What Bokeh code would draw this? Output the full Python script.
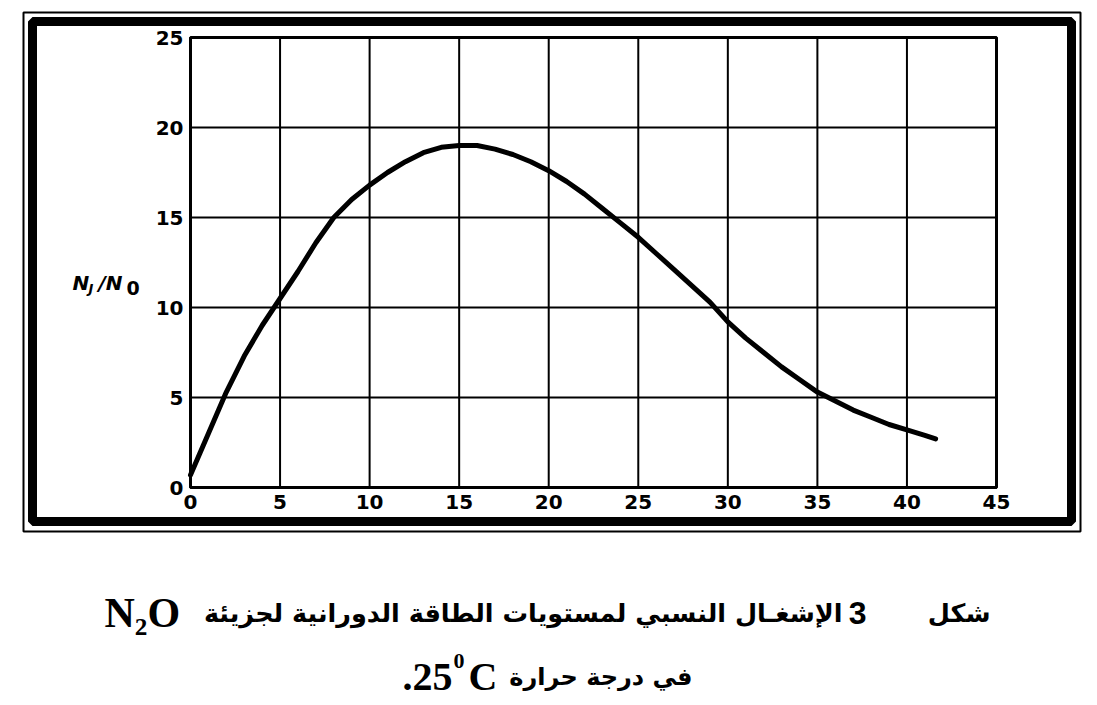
from bokeh.plotting import figure
from bokeh.models import FixedTicker, LinearAxis, Range1d
from bokeh.core.properties import value
from bokeh.embed import file_html
from bokeh.resources import INLINE

# ---- data ----
J = [0, 1, 2, 3, 4, 5, 6, 7, 8, 9, 10, 11, 12, 13, 14, 15, 16, 17, 18, 19, 20,
     21, 22, 23, 24, 25, 26, 27, 28, 29, 30, 31, 32, 33, 34, 35, 36, 37, 38,
     39, 40, 41, 41.6]
ratio = [0.7, 3.0, 5.3, 7.3, 9.0, 10.5, 12.0, 13.6, 15.0, 16.0, 16.8, 17.5,
         18.1, 18.6, 18.9, 19.0, 19.0, 18.8, 18.5, 18.1, 17.6, 17.0, 16.3,
         15.5, 14.7, 13.9, 13.0, 12.1, 11.2, 10.3, 9.2, 8.3, 7.5, 6.7, 6.0,
         5.3, 4.8, 4.3, 3.9, 3.5, 3.2, 2.9, 2.7]
x_ticks = [0, 5, 10, 15, 20, 25, 30, 35, 40, 45]
y_ticks = [0, 5, 10, 15, 20, 25]
X_MAX, Y_MAX = 45, 25

caption_word = "شكل"
caption_num = "3"
caption_line1 = "الإشغـال النسبي لمستويات الطاقة الدورانية لجزيئة"
caption_mol = "N₂O"
caption_line2 = "في درجة حرارة"
caption_temp = ".25"
caption_deg = "0"
caption_unit = "C"

# ---- layout (canvas pixels) ----
W, H = 1085, 700
PX0, PX1 = 190, 996      # canvas x of data 0 and X_MAX
PY0, PY1 = 487, 37       # canvas y of data 0 and Y_MAX
kx = (PX1 - PX0) / X_MAX
ky = (PY0 - PY1) / Y_MAX


def dx(cx):
    return (cx - PX0) / kx


def dy(cy):
    return (PY0 - cy) / ky


p = figure(width=W, height=H,
           x_range=Range1d(dx(0), dx(W)), y_range=Range1d(dy(H), dy(0)),
           x_axis_type=None, y_axis_type=None,
           output_backend="svg", toolbar_location=None,
           min_border_left=0, min_border_right=0,
           min_border_top=0, min_border_bottom=0)
p.background_fill_color = "white"
p.border_fill_color = "white"
p.outline_line_color = None
p.xgrid.visible = False
p.ygrid.visible = False

# grid lines at the tick positions
p.segment(x0=x_ticks, y0=[0] * len(x_ticks), x1=x_ticks, y1=[Y_MAX] * len(x_ticks),
          line_color="black", line_width=2)
p.segment(x0=[0] * len(y_ticks), y0=y_ticks, x1=[X_MAX] * len(y_ticks), y1=y_ticks,
          line_color="black", line_width=2)
# plot box
p.quad(left=[0], right=[X_MAX], bottom=[0], top=[Y_MAX], fill_color=None,
       line_color="black", line_width=3)

# data curve
p.line(J, ratio, line_width=5, line_color="black", line_cap="round")

# axes
xaxis = LinearAxis(fixed_location=0, bounds=(0, X_MAX), ticker=FixedTicker(ticks=x_ticks))
yaxis = LinearAxis(fixed_location=0, bounds=(0, Y_MAX), ticker=FixedTicker(ticks=y_ticks))
for ax in (xaxis, yaxis):
    ax.axis_line_color = "black"
    ax.axis_line_width = 3
    ax.major_tick_line_color = None
    ax.minor_tick_line_color = None
    ax.major_tick_out = 0
    ax.major_tick_in = 0
    ax.major_label_text_font = "DejaVu Sans"
    ax.major_label_text_font_style = "bold"
    ax.major_label_text_font_size = "20px"
    ax.major_label_text_color = "black"
    ax.major_label_standoff = 7
p.add_layout(xaxis, "below")
p.add_layout(yaxis, "left")

# double frame around the chart
p.quad(left=[dx(32)], right=[dx(1071)], top=[dy(21)], bottom=[dy(521)],
       fill_color=None, line_color="black", line_width=9)
p.quad(left=[dx(23)], right=[dx(1080)], top=[dy(12)], bottom=[dy(531)],
       fill_color=None, line_color="black", line_width=2)


def add_text(cx, cy, text, font, size, style="bold", align="left"):
    p.text(x=[dx(cx)], y=[dy(cy)], text=[text], text_font=value(font),
           text_font_size=value(size), text_font_style=style, text_align=align,
           text_baseline="alphabetic", text_color="black")


# y-axis label  N_J / N_0
add_text(72, 282, "N", "DejaVu Sans", "20px", "bold italic")
add_text(88, 288, "J", "DejaVu Sans", "13px", "bold italic")
add_text(98, 282, "/N", "DejaVu Sans", "20px", "bold italic")
add_text(126, 287, "0", "DejaVu Sans", "19px", "bold")

# caption, line 1
add_text(990, 612, caption_word, "DejaVu Sans", "25.5px", "bold", "right")
add_text(866, 612, caption_num, "Liberation Sans", "32px", "bold", "right")
add_text(842, 612, caption_line1, "DejaVu Sans", "25.5px", "bold", "right")
add_text(104, 612, caption_mol, "Liberation Serif", "42px", "bold", "left")
# caption, line 2
add_text(692, 676, caption_line2, "DejaVu Sans", "24px", "bold", "right")
add_text(452, 676, caption_temp, "Liberation Serif", "40px", "bold", "right")
add_text(453, 660, caption_deg, "Liberation Serif", "22px", "bold", "left")
add_text(468, 676, caption_unit, "Liberation Serif", "40px", "bold", "left")

open("out.html", "w").write(file_html(p, INLINE))
